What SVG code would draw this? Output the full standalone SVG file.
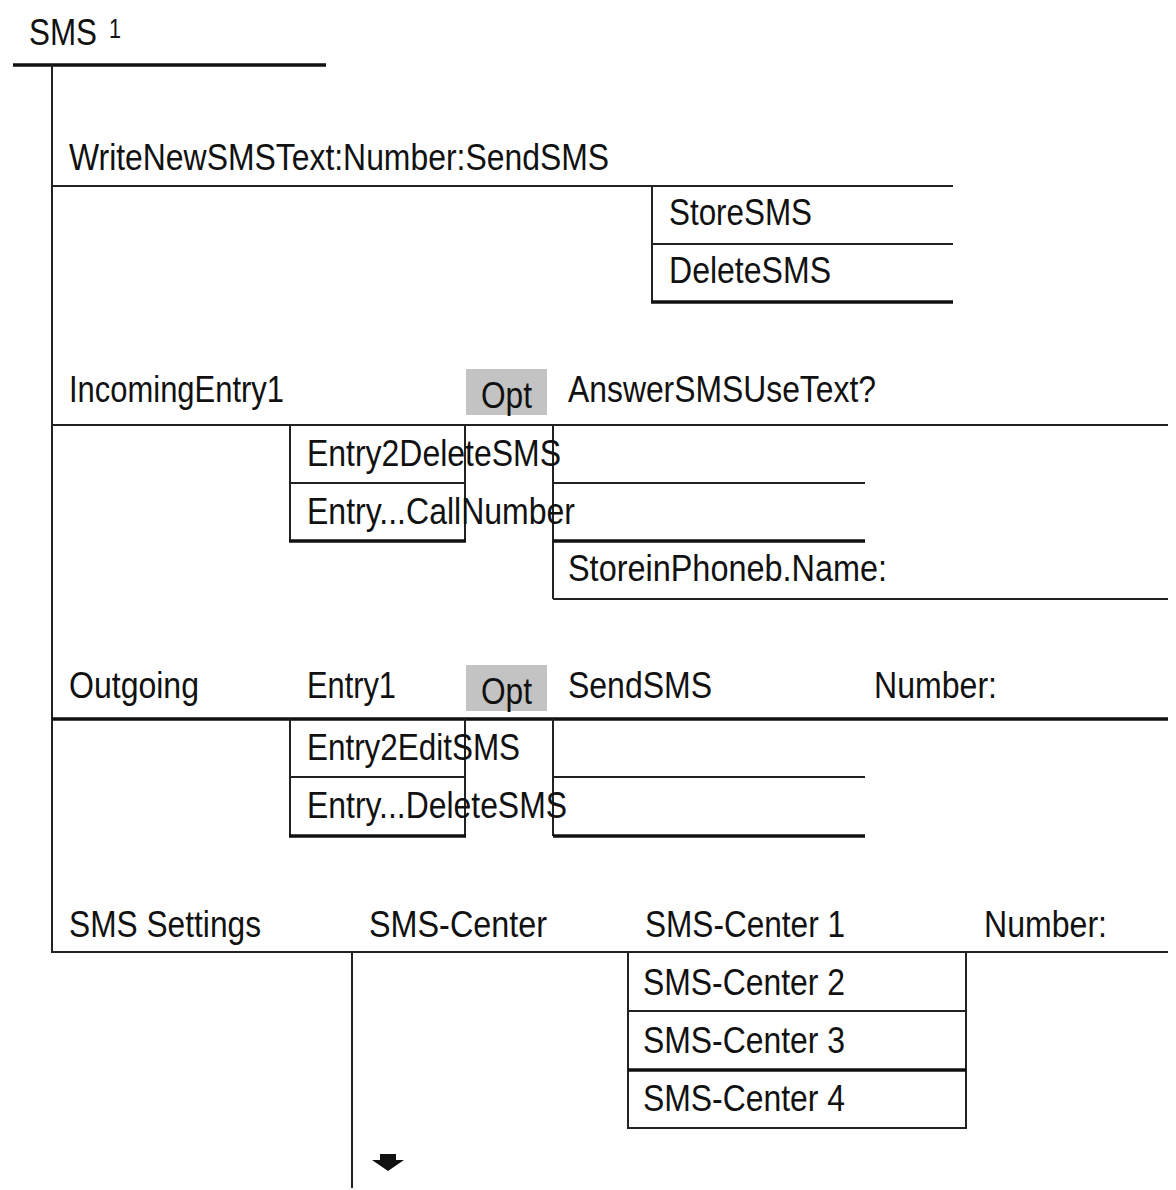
<svg xmlns="http://www.w3.org/2000/svg" width="1176" height="1190" viewBox="0 0 1176 1190">
<style>
text{font-family:"Liberation Sans",Arial,sans-serif;font-size:36px;fill:#111}
.sup{font-size:27px}
.ln{stroke:#222;stroke-width:2;fill:none}
.th{stroke:#111;stroke-width:3.5;fill:none}
.opt{fill:#c3c3c3}
</style>
<rect width="1176" height="1190" fill="#fff"/>
<g id="connectors">
<line class="th" x1="13" y1="65" x2="326" y2="65"/>
<line class="ln" x1="52" y1="65" x2="52" y2="952"/>
<line class="ln" x1="52" y1="186" x2="953" y2="186"/>
<line class="ln" x1="652" y1="186" x2="652" y2="302"/>
<line class="ln" x1="652" y1="244" x2="953" y2="244"/>
<line class="th" x1="651" y1="302" x2="953" y2="302"/>
<line class="ln" x1="52" y1="425" x2="1168" y2="425"/>
<line class="ln" x1="290" y1="425" x2="290" y2="541"/>
<line class="ln" x1="465" y1="425" x2="465" y2="541"/>
<line class="ln" x1="290" y1="483" x2="465" y2="483"/>
<line class="th" x1="289" y1="541" x2="466" y2="541"/>
<line class="ln" x1="553" y1="425" x2="553" y2="599"/>
<line class="ln" x1="553" y1="483" x2="865" y2="483"/>
<line class="th" x1="553" y1="541" x2="865" y2="541"/>
<line class="ln" x1="553" y1="599" x2="1168" y2="599"/>
<line class="th" x1="52" y1="719" x2="1168" y2="719"/>
<line class="ln" x1="290" y1="719" x2="290" y2="836"/>
<line class="ln" x1="465" y1="719" x2="465" y2="836"/>
<line class="ln" x1="290" y1="777" x2="465" y2="777"/>
<line class="th" x1="289" y1="836" x2="466" y2="836"/>
<line class="ln" x1="553" y1="719" x2="553" y2="836"/>
<line class="ln" x1="553" y1="777" x2="865" y2="777"/>
<line class="th" x1="553" y1="836" x2="865" y2="836"/>
<line class="ln" x1="51" y1="952" x2="1168" y2="952"/>
<line class="ln" x1="352" y1="952" x2="352" y2="1188"/>
<line class="ln" x1="628" y1="952" x2="628" y2="1128"/>
<line class="ln" x1="966" y1="952" x2="966" y2="1128"/>
<line class="ln" x1="628" y1="1011" x2="966" y2="1011"/>
<line class="th" x1="628" y1="1070" x2="966" y2="1070"/>
<line class="ln" x1="627" y1="1128" x2="967" y2="1128"/>
<polygon points="380,1154 396,1154 396,1160 404,1160 388,1171 372,1160 380,1160" fill="#111"/>
</g>
<g id="n-sms"><text x="29" y="45" textLength="68" lengthAdjust="spacingAndGlyphs">SMS</text><text class="sup" x="109" y="38" textLength="12" lengthAdjust="spacingAndGlyphs">1</text></g>
<g id="n-write"><text x="69" y="170" textLength="540" lengthAdjust="spacingAndGlyphs">WriteNewSMSText:Number:SendSMS</text></g>
<g id="n-store"><text x="669" y="225" textLength="143" lengthAdjust="spacingAndGlyphs">StoreSMS</text></g>
<g id="n-delete"><text x="669" y="283" textLength="162" lengthAdjust="spacingAndGlyphs">DeleteSMS</text></g>
<g id="n-incoming"><text x="69" y="402" textLength="215" lengthAdjust="spacingAndGlyphs">IncomingEntry1</text></g>
<g id="n-opt1"><rect class="opt" x="466" y="369" width="81" height="46"/><text x="481" y="408" textLength="51" lengthAdjust="spacingAndGlyphs">Opt</text></g>
<g id="n-answer"><text x="568" y="402" textLength="308" lengthAdjust="spacingAndGlyphs">AnswerSMSUseText?</text></g>
<g id="n-e2del"><text x="307" y="466" textLength="254" lengthAdjust="spacingAndGlyphs">Entry2DeleteSMS</text></g>
<g id="n-ecall"><text x="307" y="524" textLength="268" lengthAdjust="spacingAndGlyphs">Entry...CallNumber</text></g>
<g id="n-storepb"><text x="568" y="581" textLength="319" lengthAdjust="spacingAndGlyphs">StoreinPhoneb.Name:</text></g>
<g id="n-outgoing"><text x="69" y="698" textLength="130" lengthAdjust="spacingAndGlyphs">Outgoing</text></g>
<g id="n-entry1"><text x="307" y="698" textLength="89" lengthAdjust="spacingAndGlyphs">Entry1</text></g>
<g id="n-opt2"><rect class="opt" x="466" y="665" width="81" height="46"/><text x="481" y="704" textLength="51" lengthAdjust="spacingAndGlyphs">Opt</text></g>
<g id="n-sendsms"><text x="568" y="698" textLength="144" lengthAdjust="spacingAndGlyphs">SendSMS</text></g>
<g id="n-number1"><text x="874" y="698" textLength="123" lengthAdjust="spacingAndGlyphs">Number:</text></g>
<g id="n-e2edit"><text x="307" y="760" textLength="213" lengthAdjust="spacingAndGlyphs">Entry2EditSMS</text></g>
<g id="n-edel"><text x="307" y="818" textLength="260" lengthAdjust="spacingAndGlyphs">Entry...DeleteSMS</text></g>
<g id="n-settings"><text x="69" y="937" textLength="192" lengthAdjust="spacingAndGlyphs">SMS Settings</text></g>
<g id="n-center"><text x="369" y="937" textLength="178" lengthAdjust="spacingAndGlyphs">SMS-Center</text></g>
<g id="n-center1"><text x="645" y="937" textLength="200" lengthAdjust="spacingAndGlyphs">SMS-Center 1</text></g>
<g id="n-number2"><text x="984" y="937" textLength="123" lengthAdjust="spacingAndGlyphs">Number:</text></g>
<g id="n-center2"><text x="643" y="995" textLength="202" lengthAdjust="spacingAndGlyphs">SMS-Center 2</text></g>
<g id="n-center3"><text x="643" y="1053" textLength="202" lengthAdjust="spacingAndGlyphs">SMS-Center 3</text></g>
<g id="n-center4"><text x="643" y="1111" textLength="202" lengthAdjust="spacingAndGlyphs">SMS-Center 4</text></g>
</svg>
